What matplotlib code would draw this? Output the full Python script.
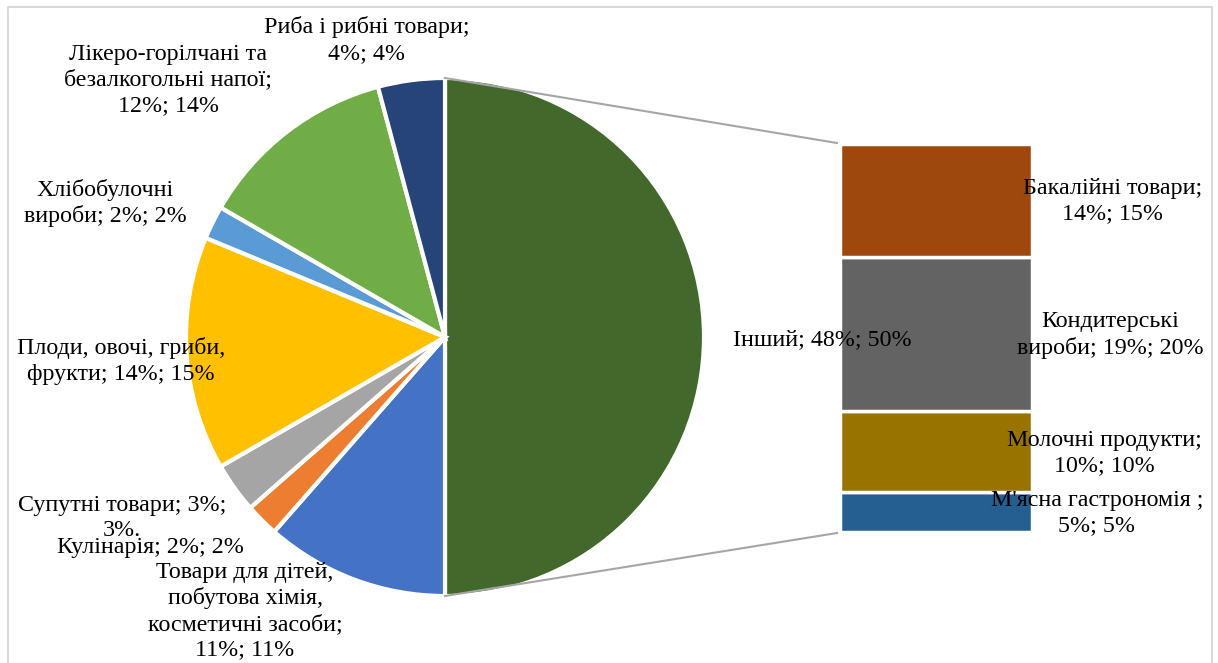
## Pie-of-bar chart: product groups share
import matplotlib.pyplot as plt

plt.rcParams['font.family'] = ['Liberation Serif', 'DejaVu Serif']

# pie part (clockwise from 12 o'clock)
pie_names = ['Інший', 'Товари для дітей,\nпобутова хімія,\nкосметичні засоби;\n',
             'Кулінарія; ', 'Супутні товари; ', 'Плоди, овочі, гриби,\nфрукти; ',
             'Хлібобулочні\nвироби; ', 'Лікеро-горілчані та\nбезалкогольні напої;\n',
             'Риба і рибні товари;\n']
pie_values = [48, 11, 2, 3, 14, 2, 12, 4]
pie_percents = [50, 11, 2, 3, 15, 2, 14, 4]
pie_colors = ['#43682B', '#4472C4', '#ED7D31', '#A5A5A5', '#FFC000',
              '#5B9BD5', '#70AD47', '#264478']

# bar part (top to bottom)
bar_names = ['Бакалійні товари;\n', 'Кондитерські\nвироби; ',
             'Молочні продукти;\n', "М'ясна гастрономія ;\n"]
bar_values = [14, 19, 10, 5]
bar_percents = [15, 20, 10, 5]
bar_colors = ['#9E480E', '#636363', '#997300', '#255E91']

W, H = 1218, 663
fig = plt.figure(figsize=(W / 100, H / 100), dpi=100)
ax = fig.add_axes([0, 0, 1, 1])

def py(y):
    # pixel row -> data y
    return H - y

cx, cy, r = 445, py(337), 259
ax.pie(pie_values, colors=pie_colors, startangle=90, counterclock=False,
       center=(cx, cy), radius=r,
       wedgeprops=dict(edgecolor='white', linewidth=3))

# stacked bar
bx, bw = 936, 192
scale = 388 / sum(bar_values)
bottom = py(532)
for name, v, c in reversed(list(zip(bar_names, bar_values, bar_colors))):
    ax.bar(bx, v * scale, bottom=bottom, width=bw, color=c,
           edgecolor='white', linewidth=2.5)
    bottom += v * scale
bar_top = bottom

# connector lines
ax.plot([cx, bx - bw / 2 - 3], [cy + r, bar_top + 1], color='#A6A6A6', lw=1.5)
ax.plot([cx, bx - bw / 2 - 3], [cy - r, py(533)], color='#A6A6A6', lw=1.5)

# labels
fs = 17.3
ls = 1.28
pie_label_pos = [(822, 340), (245, 611), (150, 548), (122, 518), (121, 361),
                 (105, 203), (168, 80), (367, 40)]
for i, (name, v, p) in enumerate(zip(pie_names, pie_values, pie_percents)):
    x, y = pie_label_pos[i]
    if i == 0:
        txt = f'{name}; {v}%; {p}%'
    elif i == 3:
        txt = f'{name}{v}%;\n{p}%.'
    else:
        txt = f'{name}{v}%; {p}%'
    ax.text(x, py(y), txt, ha='center', va='center', fontsize=fs,
            linespacing=ls, color='black')

bar_label_pos = [(1113, 201), (1110, 335), (1104, 453), (1097, 513)]
for (x, y), name, v, p in zip(bar_label_pos, bar_names, bar_values, bar_percents):
    ax.text(x, py(y), f'{name}{v}%; {p}%', ha='center', va='center',
            fontsize=fs, linespacing=ls, color='black')

# chart frame
ax.plot([8, 8, 1212, 1212], [0, py(7), py(7), 0], color='#D9D9D9', lw=1.5)

ax.set_xlim(0, W)
ax.set_ylim(0, H)
ax.set_aspect('equal')
ax.axis('off')
fig.savefig('out.png', dpi=100)
